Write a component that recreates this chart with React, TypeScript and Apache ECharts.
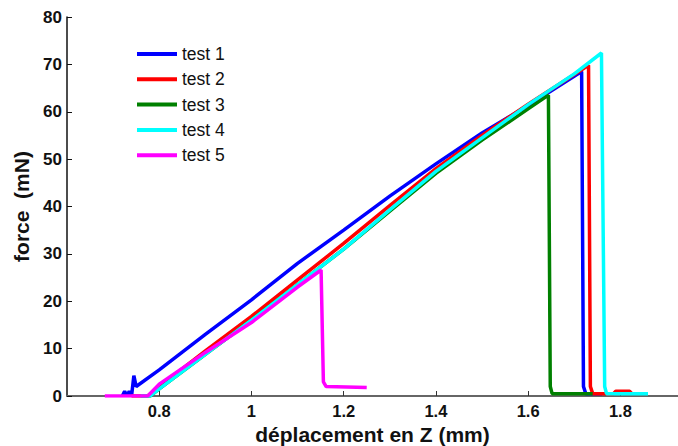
import React, { useEffect, useRef } from "react";
import * as echarts from "echarts";

const seriesNames = ["test 1", "test 2", "test 3", "test 4", "test 5"];
const seriesColors = ["#0000FF", "#FF0000", "#008000", "#00FFFF", "#FF00FF"];

const test1: [number, number][] = [
  [0.72, 0], [0.725, 1], [0.73, 0], [0.735, 1], [0.74, 0], [0.745, 4.3], [0.75, 2],
  [0.8, 5.5], [0.9, 13], [1.0, 20.3], [1.1, 28], [1.2, 35], [1.3, 42.2], [1.4, 49],
  [1.5, 55.5], [1.6, 61.3], [1.716, 68.5], [1.72, 2], [1.725, 0.5], [1.76, 0.5],
];
const test2: [number, number][] = [
  [0.74, 0], [0.775, 0], [0.8, 2], [0.9, 9.5], [1.0, 16.8], [1.1, 24.5], [1.2, 32.2],
  [1.3, 40.2], [1.4, 48], [1.5, 55], [1.6, 61.6], [1.731, 69.8], [1.735, 2], [1.74, 0.5],
  [1.785, 0.5], [1.79, 1], [1.82, 1], [1.825, 0.5],
];
const test3: [number, number][] = [
  [0.76, 0], [0.78, 0], [0.8, 1.5], [0.9, 8.8], [1.0, 16], [1.1, 23.5], [1.2, 31],
  [1.3, 39], [1.4, 47], [1.5, 54], [1.6, 60.6], [1.644, 63.5], [1.648, 2], [1.652, 0.5],
  [1.74, 0.5],
];
const test4: [number, number][] = [
  [0.76, 0], [0.78, 0], [0.8, 1.5], [0.9, 8.8], [1.0, 16], [1.1, 23.5], [1.2, 31],
  [1.3, 39.3], [1.4, 47.4], [1.5, 54.5], [1.6, 61.5], [1.7, 68], [1.759, 72.4],
  [1.766, 2], [1.77, 0.5], [1.86, 0.5],
];
const test5: [number, number][] = [
  [0.682, 0], [0.775, 0], [0.8, 2.5], [0.9, 9.2], [1.0, 15.5], [1.1, 23], [1.151, 26.6],
  [1.156, 3], [1.162, 2], [1.25, 1.8],
];
const seriesData = [test1, test2, test3, test4, test5];

const xMin = 0.6;
const xMax = 1.925;
const xStep = 0.2;
const yMin = 0;
const yMax = 80;
const yStep = 10;

const font = "'Liberation Sans', Arial, Helvetica, sans-serif";

export default function App() {
  const ref = useRef<HTMLDivElement>(null);
  useEffect(() => {
    if (!ref.current) return;
    const chart = echarts.init(ref.current, undefined, { renderer: "svg" });
    chart.setOption({
      animation: false,
      backgroundColor: "#ffffff",
      textStyle: { fontFamily: font },
      grid: { left: 67, top: 17, right: 0, bottom: 50, containLabel: false, outerBoundsMode: "none" },
      legend: {
        orient: "vertical",
        left: 137,
        top: 45,
        padding: 0,
        icon: "rect",
        itemWidth: 40,
        itemHeight: 4,
        itemGap: 7.3,
        data: seriesNames,
        textStyle: { fontSize: 17.5, color: "#111", fontFamily: font },
      },
      xAxis: {
        type: "value",
        min: xMin,
        max: xMax,
        interval: xStep,
        name: "déplacement en Z (mm)",
        nameLocation: "middle",
        nameGap: 27.5,
        nameTextStyle: { fontSize: 21, fontWeight: "bold", color: "#111", fontFamily: font },
        axisLine: { show: true, lineStyle: { color: "#666", width: 2 } },
        axisTick: { show: true, inside: true, length: 5, lineStyle: { color: "#333" } },
        axisLabel: {
          showMinLabel: false,
          showMaxLabel: false,
          fontSize: 16.5,
          fontWeight: "bold",
          color: "#111",
          margin: 6,
          fontFamily: font,
        },
        splitLine: { show: false },
      },
      yAxis: {
        type: "value",
        min: yMin,
        max: yMax,
        interval: yStep,
        name: "force  (mN)",
        nameLocation: "middle",
        nameGap: 32,
        nameTextStyle: { fontSize: 21, fontWeight: "bold", color: "#111", fontFamily: font },
        axisLine: { show: true, lineStyle: { color: "#111", width: 1.5 } },
        axisTick: { show: true, inside: true, length: 5, lineStyle: { color: "#111" } },
        axisLabel: { fontSize: 17, fontWeight: "bold", color: "#111", margin: 5, fontFamily: font },
        splitLine: { show: false },
      },
      series: seriesNames.map((name, i) => ({
        name,
        type: "line",
        data: seriesData[i],
        symbol: "none",
        color: seriesColors[i],
        lineStyle: { width: 3.5, color: seriesColors[i] },
        clip: true,
      })),
    });
    return () => chart.dispose();
  }, []);
  return <div ref={ref} style={{ width: 678, height: 446, position: "absolute", left: 0, top: 0 }} />;
}
